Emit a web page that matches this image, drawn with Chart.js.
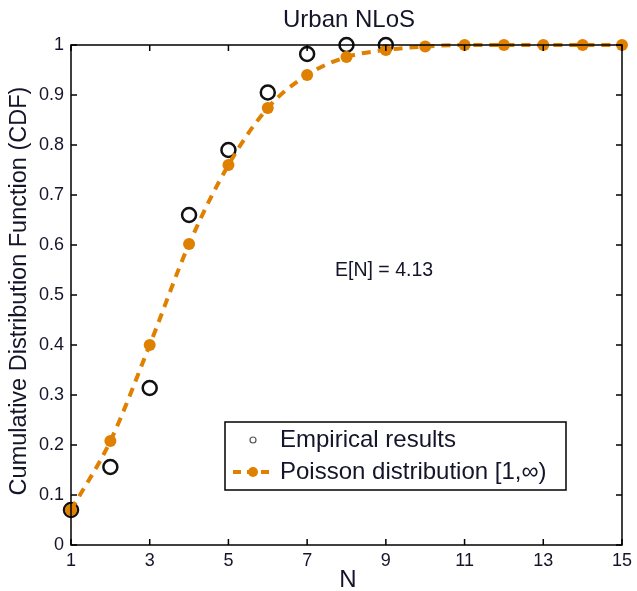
<!DOCTYPE html>
<html>
<head>
<meta charset="utf-8">
<title>Urban NLoS</title>
<script src="https://cdn.jsdelivr.net/npm/chart.js@4.4.1/dist/chart.umd.min.js"></script>
<style>
  html, body { margin: 0; padding: 0; background: #fff; }
  canvas { display: block; }
</style>
</head>
<body>
<canvas id="cdfChart" width="637" height="591"></canvas>
<script>
// Data
const empiricalN = [1, 2, 3, 4, 5, 6, 7, 8, 9];
const empiricalCdf = [0.07, 0.156, 0.314, 0.66, 0.79, 0.905, 0.982, 1.0, 1.0];
const poissonN = [1, 2, 3, 4, 5, 6, 7, 8, 9, 10, 11, 12, 13, 14, 15];
const poissonCdf = [0.07, 0.208, 0.40, 0.602, 0.76, 0.874, 0.94, 0.976, 0.99, 0.997, 1.0, 1.0, 1.0, 1.0, 1.0];
const xTicks = [1, 3, 5, 7, 9, 11, 13, 15];
const yTicks = [0, 0.1, 0.2, 0.3, 0.4, 0.5, 0.6, 0.7, 0.8, 0.9, 1];

const ORANGE = '#e08000';
const FONT = '"Liberation Sans", Arial, Helvetica, sans-serif';
const TEXT = '#14142a';

function toPoints(xs, ys) {
    return xs.map((x, i) => ({ x: x, y: ys[i] }));
}

// Frame, inner ticks, titles, annotation and legend
const decorations = {
    id: 'decorations',
    afterDraw(chart) {
        const ctx = chart.ctx;
        const area = chart.chartArea;
        const xs = chart.scales.x;
        const ys = chart.scales.y;
        const tick = 6;

        ctx.save();
        ctx.strokeStyle = '#000';
        ctx.lineWidth = 1.5;
        ctx.strokeRect(area.left, area.top, area.right - area.left, area.bottom - area.top);

        ctx.beginPath();
        xTicks.forEach(v => {
            const px = xs.getPixelForValue(v);
            ctx.moveTo(px, area.bottom); ctx.lineTo(px, area.bottom - tick);
            ctx.moveTo(px, area.top); ctx.lineTo(px, area.top + tick);
        });
        yTicks.forEach(v => {
            const py = ys.getPixelForValue(v);
            ctx.moveTo(area.left, py); ctx.lineTo(area.left + tick, py);
            ctx.moveTo(area.right, py); ctx.lineTo(area.right - tick, py);
        });
        ctx.stroke();

        // Titles
        ctx.fillStyle = TEXT;
        ctx.textAlign = 'center';
        ctx.textBaseline = 'middle';
        ctx.font = '24px ' + FONT;
        ctx.fillText('Urban NLoS', 349, 20);
        ctx.fillText('N', 348, 580);

        ctx.save();
        ctx.translate(20, 291);
        ctx.rotate(-Math.PI / 2);
        ctx.font = '23.5px ' + FONT;
        ctx.fillText('Cumulative Distribution Function (CDF)', 0, 0);
        ctx.restore();

        ctx.textAlign = 'left';
        ctx.font = '19.5px ' + FONT;
        ctx.fillText('E[N] = 4.13', 335, 271);

        // Legend box
        const lx = 225, ly = 422, lw = 341, lh = 68;
        ctx.fillStyle = '#fff';
        ctx.fillRect(lx, ly, lw, lh);
        ctx.strokeStyle = '#000';
        ctx.lineWidth = 1.5;
        ctx.strokeRect(lx, ly, lw, lh);

        ctx.beginPath();
        ctx.lineWidth = 1.2;
        ctx.strokeStyle = '#555';
        ctx.arc(253, 440, 3, 0, Math.PI * 2);
        ctx.stroke();

        ctx.beginPath();
        ctx.strokeStyle = ORANGE;
        ctx.lineWidth = 4;
        ctx.setLineDash([8, 6]);
        ctx.moveTo(233, 472);
        ctx.lineTo(274, 472);
        ctx.stroke();
        ctx.setLineDash([]);
        ctx.beginPath();
        ctx.fillStyle = ORANGE;
        ctx.arc(253, 472, 5, 0, Math.PI * 2);
        ctx.fill();

        ctx.fillStyle = TEXT;
        ctx.font = '24px ' + FONT;
        ctx.textBaseline = 'middle';
        ctx.fillText('Empirical results', 280, 440);
        ctx.fillText('Poisson distribution [1,\u221e)', 280, 472);
        ctx.restore();
    }
};

function initChart() {
    const el = document.getElementById('cdfChart');
    new Chart(el, {
        type: 'line',
        data: {
            datasets: [{
                label: 'Empirical results',
                data: toPoints(empiricalN, empiricalCdf),
                showLine: false,
                pointStyle: 'circle',
                pointRadius: 7,
                pointBorderWidth: 2.5,
                pointBorderColor: '#111',
                pointBackgroundColor: 'rgba(0,0,0,0)',
                clip: false,
                order: 2
            },
            {
                label: 'Poisson distribution [1,\u221e)',
                data: toPoints(poissonN, poissonCdf),
                borderColor: ORANGE,
                borderWidth: 4,
                borderDash: [9, 7],
                tension: 0.35,
                cubicInterpolationMode: 'monotone',
                pointRadius: 6,
                pointBorderWidth: 0,
                pointBackgroundColor: ORANGE,
                clip: false,
                order: 1
            }]
        },
        options: {
            responsive: false,
            animation: false,
            layout: { padding: { left: 0, top: 45, right: 12, bottom: 0 } },
            plugins: {
                legend: { display: false },
                tooltip: { enabled: false }
            },
            scales: {
                x: {
                    type: 'linear',
                    min: 1,
                    max: 15,
                    afterBuildTicks: s => { s.ticks = xTicks.map(v => ({ value: v })); },
                    afterFit: s => { s.height = 46; },
                    grid: { display: false, drawTicks: false },
                    border: { display: false },
                    ticks: {
                        padding: 5,
                        color: TEXT,
                        font: { size: 18, family: FONT },
                        maxRotation: 0
                    }
                },
                y: {
                    type: 'linear',
                    min: 0,
                    max: 1,
                    afterBuildTicks: s => { s.ticks = yTicks.map(v => ({ value: v })); },
                    afterFit: s => { s.width = 71; },
                    grid: { display: false, drawTicks: false },
                    border: { display: false },
                    ticks: {
                        padding: 7,
                        color: TEXT,
                        font: { size: 18, family: FONT },
                        callback: v => String(Math.round(v * 10) / 10)
                    }
                }
            }
        },
        plugins: [decorations]
    });
}

window.addEventListener('load', () => {
    initChart();
});
</script>
</body>
</html>
